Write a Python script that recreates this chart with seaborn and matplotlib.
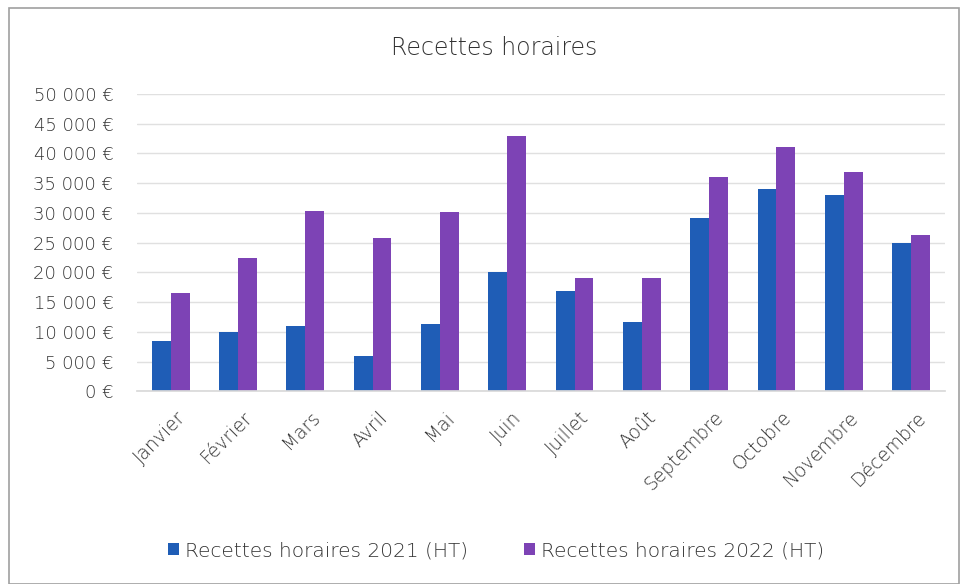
import matplotlib
matplotlib.use("Agg")
import matplotlib.pyplot as plt
import matplotlib.transforms as mtrans
import seaborn as sns
import pandas as pd
from matplotlib.ticker import FuncFormatter, MultipleLocator
from matplotlib.patches import Rectangle, Patch

months = ["Janvier", "Février", "Mars", "Avril", "Mai", "Juin", "Juillet",
          "Août", "Septembre", "Octobre", "Novembre", "Décembre"]
rec_2021 = [8500, 10000, 11000, 6000, 11400, 20000, 16800, 11700, 29100, 34000, 33000, 24900]
rec_2022 = [16500, 22400, 30400, 25800, 30100, 42900, 19000, 19000, 36100, 41100, 36800, 26300]
series_names = ["Recettes horaires 2021 (HT)", "Recettes horaires 2022 (HT)"]
title = "Recettes horaires"

df = pd.DataFrame({
    "Mois": months * 2,
    "Valeur": rec_2021 + rec_2022,
    "Série": [series_names[0]] * len(months) + [series_names[1]] * len(months),
})

sns.set_theme(style="white")
plt.rcParams["font.family"] = ["DejaVu Sans"]
plt.rcParams["font.weight"] = "light"
text_col = "#333333"
colors = ["#1F5DB6", "#7D43B5"]

fig = plt.figure(figsize=(9.65, 5.84), dpi=100)
ax = fig.add_axes([0.142, 0.330, 0.837, 0.509])

sns.barplot(data=df, x="Mois", y="Valeur", hue="Série", palette=colors,
            width=0.56, saturation=1, ax=ax, legend=False, edgecolor="none")

ax.set_ylim(0, 50000)
ax.yaxis.set_major_locator(MultipleLocator(5000))
ax.yaxis.set_major_formatter(FuncFormatter(
    lambda v, p: f"{int(v):,}".replace(",", " ") + " €"))
ax.grid(axis="y", color="#E0E0E0", linewidth=1)
ax.set_axisbelow(True)
for s in ["top", "right", "left"]:
    ax.spines[s].set_visible(False)
ax.spines["bottom"].set_color("#D9D9D9")
ax.set_xlabel("")
ax.set_ylabel("")
ax.tick_params(axis="y", labelsize=13, colors=text_col, length=0, pad=17)
ax.tick_params(axis="x", labelsize=13.5, colors=text_col, length=0, pad=12)
offset = mtrans.ScaledTranslation(5 / 100, 0, fig.dpi_scale_trans)
for lab in ax.get_xticklabels():
    lab.set_rotation(45)
    lab.set_ha("right")
    lab.set_rotation_mode("anchor")
    lab.set_transform(lab.get_transform() + offset)
ax.set_xlim(-0.5, len(months) - 0.5)

fig.text(0.512, 0.918, title, ha="center", va="center", fontsize=17, color=text_col)

handles = [Patch(facecolor=c, edgecolor="none") for c in colors]
fig.legend(handles, series_names, loc="center", bbox_to_anchor=(0.514, 0.057),
           ncol=2, frameon=False, fontsize=14.5, labelcolor=text_col,
           handlelength=0.55, handleheight=0.55, handletextpad=0.3, columnspacing=2.8)

fig.patches.append(Rectangle((0.009, 0.0), 0.985, 0.986, transform=fig.transFigure,
                             fill=False, edgecolor="#A0A0A0", linewidth=1.2))

fig.savefig("out.png", dpi=100, facecolor="white")
